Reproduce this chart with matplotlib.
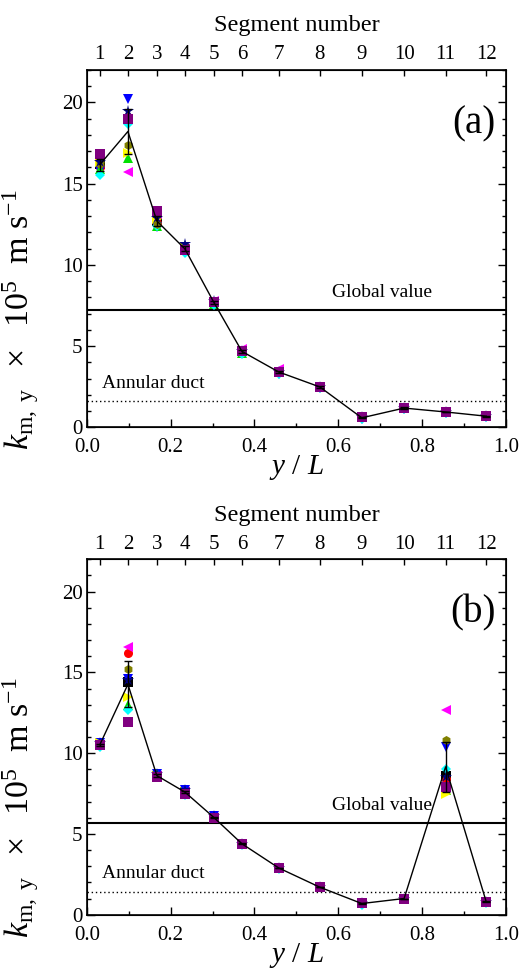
import numpy as np
import matplotlib
matplotlib.use("Agg")
import matplotlib.pyplot as plt
from matplotlib.ticker import MultipleLocator

plt.rcParams['font.family'] = ['Liberation Serif', 'DejaVu Serif']
plt.rcParams['mathtext.fontset'] = 'custom'
plt.rcParams['mathtext.rm'] = 'Liberation Serif'
plt.rcParams['mathtext.it'] = 'Liberation Serif:italic'

# segment centres (y/L) and numbers
y_pos = [0.031, 0.098, 0.167, 0.234, 0.303, 0.370, 0.458, 0.556, 0.656, 0.757, 0.856, 0.953]
segments = [1, 2, 3, 4, 5, 6, 7, 8, 9, 10, 11, 12]

series_names = ['black', 'red', 'blue', 'green', 'magenta', 'yellow', 'cyan', 'olive', 'navy', 'purple']

# panel (a) values per series (x10^5 m/s)
a_black   = [16.2, 19.0, 12.7, 11.0, 7.7, 4.7, 3.4, 2.5, 0.6, 1.2, 0.95, 0.7]
a_red     = [16.0, 19.1, 12.6, 11.0, 7.8, 4.7, 3.4, 2.5, 0.6, 1.2, 0.95, 0.7]
a_blue    = [15.8, 20.2, 12.3, 10.8, 7.6, 4.6, 3.3, 2.4, 0.5, 1.1, 0.90, 0.6]
a_green   = [15.9, 16.6, 12.4, 10.9, 7.6, 4.6, 3.4, 2.5, 0.6, 1.2, 0.95, 0.7]
a_magenta = [16.7, 15.7, 13.1, 11.0, 7.8, 4.8, 3.6, 2.5, 0.6, 1.2, 0.95, 0.7]
a_yellow  = [16.3, 16.9, 12.8, 11.1, 7.7, 4.7, 3.4, 2.5, 0.6, 1.2, 0.95, 0.7]
a_cyan    = [15.5, 18.7, 12.4, 10.7, 7.5, 4.5, 3.3, 2.4, 0.5, 1.1, 0.90, 0.6]
a_olive   = [16.2, 17.4, 12.5, 11.1, 7.7, 4.7, 3.4, 2.5, 0.6, 1.2, 0.95, 0.7]
a_navy    = [16.3, 19.5, 12.9, 11.3, 7.8, 4.7, 3.4, 2.5, 0.6, 1.2, 0.95, 0.7]
a_purple  = [16.8, 19.0, 13.3, 10.9, 7.7, 4.7, 3.4, 2.5, 0.6, 1.2, 0.95, 0.7]

# panel (b) values per series
b_black   = [10.5, 14.4, 8.6, 7.6, 6.0, 4.4, 2.9, 1.7, 0.7, 1.0, 8.6, 0.8]
b_red     = [10.5, 16.2, 8.6, 7.6, 6.0, 4.4, 2.9, 1.7, 0.7, 1.0, 8.4, 0.8]
b_blue    = [10.6, 14.6, 8.7, 7.7, 6.1, 4.4, 2.9, 1.7, 0.7, 1.0, 10.4, 0.8]
b_green   = [10.5, 13.0, 8.7, 7.6, 6.0, 4.4, 2.9, 1.7, 0.7, 1.0, 7.7, 0.8]
b_magenta = [10.5, 16.6, 8.6, 7.6, 6.0, 4.4, 2.9, 1.7, 0.7, 1.0, 12.7, 0.8]
b_yellow  = [10.6, 13.5, 8.6, 7.6, 6.0, 4.4, 2.9, 1.7, 0.7, 1.0, 7.5, 0.8]
b_cyan    = [10.4, 12.7, 8.5, 7.4, 6.0, 4.3, 2.8, 1.7, 0.6, 1.0, 9.0, 0.7]
b_olive   = [10.5, 15.2, 8.6, 7.6, 6.0, 4.4, 2.9, 1.7, 0.7, 1.0, 10.8, 0.8]
b_navy    = [10.6, 14.5, 8.7, 7.7, 6.1, 4.4, 2.9, 1.7, 0.7, 1.0, 8.5, 0.8]
b_purple  = [10.5, 11.9, 8.5, 7.5, 6.0, 4.4, 2.9, 1.7, 0.7, 1.0, 7.9, 0.8]

global_a = 7.2
annular_a = 1.6
global_b = 5.7
annular_b = 1.4

styles = {
    'black':   dict(color='black', marker='s'),
    'red':     dict(color='red', marker='o'),
    'blue':    dict(color='#0000ff', marker='v'),
    'green':   dict(color='#00e000', marker='^'),
    'magenta': dict(color='#ff00ff', marker='<'),
    'yellow':  dict(color='#ffff00', marker='>'),
    'cyan':    dict(color='#00ffff', marker='D'),
    'olive':   dict(color='#808000', marker='h'),
    'navy':    dict(color='#000080', marker='*'),
    'purple':  dict(color='#800080', marker='s'),
}

data_a = [a_black, a_red, a_blue, a_green, a_magenta, a_yellow, a_cyan, a_olive, a_navy, a_purple]
data_b = [b_black, b_red, b_blue, b_green, b_magenta, b_yellow, b_cyan, b_olive, b_navy, b_purple]

fig = plt.figure(figsize=(5.2, 9.71), dpi=100)
ax_a = fig.add_axes([0.167, 0.560, 0.806, 0.368])
ax_b = fig.add_axes([0.167, 0.058, 0.806, 0.366])

TICK_FS = 15

def draw(ax, data, gval, aval, label):
    for name, vals in zip(series_names, data):
        st = styles[name]
        ms = 9 if st['marker'] == '*' else 6.5
        if st['marker'] == 'D':
            ms = 5.5
        ax.plot(y_pos, vals, linestyle='none', marker=st['marker'], color=st['color'],
                markersize=ms, markeredgewidth=0, zorder=3)
    arr = np.array(data)
    mean = arr.mean(axis=0)
    std = arr.std(axis=0)
    ax.errorbar(y_pos, mean, yerr=std, color='black', lw=1.0, capsize=3,
                elinewidth=1.0, zorder=4)
    ax.axhline(gval, color='black', lw=1.5, zorder=2)
    ax.axhline(aval, color='black', lw=1.0, ls=(0, (1, 2)), zorder=2)
    ax.text(0.585, gval + 0.55, 'Global value', fontsize=14, ha='left', va='bottom')
    ax.text(0.035, aval + 0.6, 'Annular duct', fontsize=14, ha='left', va='bottom')
    ax.text(0.975, 18.7, label, fontsize=28, ha='right', va='center')
    ax.set_xlim(0, 1.0)
    ax.set_ylim(0, 22)
    ax.xaxis.set_minor_locator(MultipleLocator(0.1))
    ax.yaxis.set_major_locator(MultipleLocator(5))
    ax.yaxis.set_minor_locator(MultipleLocator(1))
    ax.set_xticks([0.0, 0.2, 0.4, 0.6, 0.8, 1.0])
    ax.set_xticklabels(['0.0', '0.2', '0.4', '0.6', '0.8', '1.0'])
    ax.tick_params(axis='both', which='both', direction='in', labelsize=TICK_FS)
    ax.tick_params(axis='y', which='both', right=True)
    ax.tick_params(axis='x', which='both', top=False)
    ax.tick_params(which='major', length=6, width=1)
    ax.tick_params(which='minor', length=3, width=1)
    ax.tick_params(axis='y', pad=3)
    ax.tick_params(axis='x', pad=8)
    for s in ax.spines.values():
        s.set_linewidth(1.2)
    ax.set_xlabel(r'$\mathit{y}$ / $\mathit{L}$', fontsize=21, labelpad=-3)
    ax.set_ylabel(r'$\mathit{k}_{\mathrm{m,\ y}}\ \ \times\ \ 10^{5}\ \ \mathrm{m\ s}^{-1}$', fontsize=24.5)
    ax.yaxis.set_label_coords(-0.11, 0.30)
    top = ax.twiny()
    top.set_xlim(ax.get_xlim())
    top.set_xticks(y_pos)
    top.set_xticklabels([str(s) for s in segments])
    top.tick_params(direction='in', length=4, width=1, labelsize=TICK_FS, pad=4)
    top.set_xlabel('Segment number', fontsize=17.5, labelpad=10)
    top.tick_params(axis='x', which='minor', top=False)

draw(ax_a, data_a, global_a, annular_a, '(a)')
draw(ax_b, data_b, global_b, annular_b, '(b)')

fig.savefig('out.png', dpi=100)
